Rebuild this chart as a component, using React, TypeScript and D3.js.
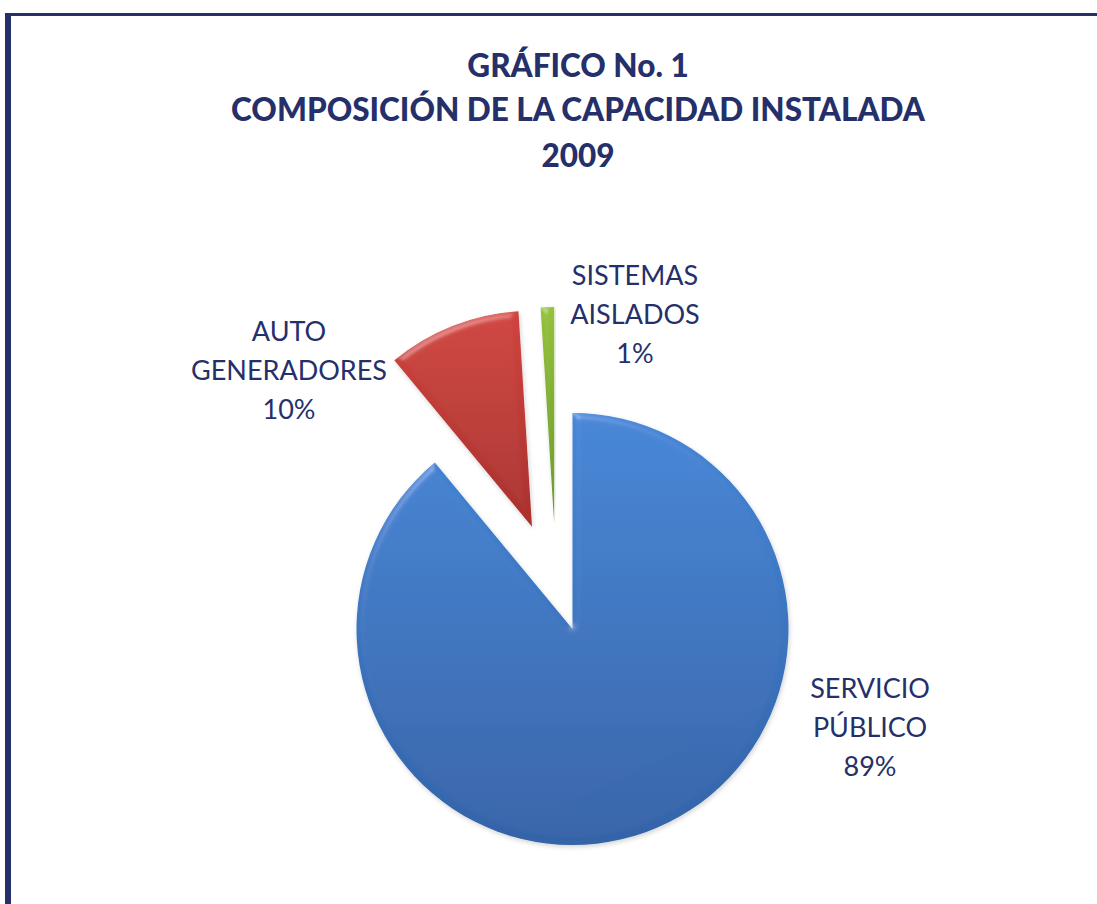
import React, { useEffect, useRef } from 'react';
import * as d3 from 'd3';

// data
const categories = ['SERVICIO PÚBLICO', 'AUTO GENERADORES', 'SISTEMAS AISLADOS'];
const values = [89, 10, 1];
const labelLines = [
  ['SERVICIO', 'PÚBLICO', '89%'],
  ['AUTO', 'GENERADORES', '10%'],
  ['SISTEMAS', 'AISLADOS', '1%'],
];
const titleLines = ['GRÁFICO No. 1', 'COMPOSICIÓN DE LA CAPACIDAD INSTALADA', '2009'];

const sliceColors = [
  ['#4486d6', '#3463a8'],
  ['#d0443f', '#a9312d'],
  ['#94c23c', '#6a9626'],
];
const explode = [0, 110, 106];
const explodeNudge = [[0, 0], [0, 0], [-15, 0]];
const labelAnchors = [[870, 698], [289, 341], [635, 285]];

const W = 1097;
const H = 904;
const NAVY = '#25306b';

const App = () => {
  const ref = useRef<SVGSVGElement>(null);

  useEffect(() => {
    const svg = d3.select(ref.current);
    svg.selectAll('*').remove();

    const defs = svg.append('defs');
    sliceColors.forEach((c, i) => {
      const g = defs.append('linearGradient')
        .attr('id', `grad${i}`)
        .attr('x1', 0).attr('y1', 0).attr('x2', 0).attr('y2', 1);
      g.append('stop').attr('offset', '0%').attr('stop-color', c[0]);
      g.append('stop').attr('offset', '100%').attr('stop-color', c[1]);
    });

    // soft bevel + light shadow
    const f = defs.append('filter').attr('id', 'bevel')
      .attr('x', '-10%').attr('y', '-10%').attr('width', '120%').attr('height', '120%');
    f.append('feGaussianBlur').attr('in', 'SourceAlpha').attr('stdDeviation', 3.5).attr('result', 'blur');
    f.append('feSpecularLighting').attr('in', 'blur').attr('surfaceScale', 4)
      .attr('specularConstant', 0.5).attr('specularExponent', 22)
      .attr('lighting-color', '#ffffff').attr('result', 'spec')
      .append('fePointLight').attr('x', -3000).attr('y', -6000).attr('z', 4000);
    f.append('feComposite').attr('in', 'spec').attr('in2', 'SourceAlpha')
      .attr('operator', 'in').attr('result', 'specIn');
    f.append('feComposite').attr('in', 'SourceGraphic').attr('in2', 'specIn')
      .attr('operator', 'arithmetic').attr('k1', 0).attr('k2', 1).attr('k3', 0.35).attr('k4', 0)
      .attr('result', 'lit');
    f.append('feGaussianBlur').attr('in', 'SourceAlpha').attr('stdDeviation', 2.5).attr('result', 'sh');
    f.append('feOffset').attr('in', 'sh').attr('dx', 1).attr('dy', 2).attr('result', 'sho');
    f.append('feComponentTransfer').attr('in', 'sho').attr('result', 'shf')
      .append('feFuncA').attr('type', 'linear').attr('slope', 0.18);
    const m = f.append('feMerge');
    m.append('feMergeNode').attr('in', 'shf');
    m.append('feMergeNode').attr('in', 'lit');

    // frame
    svg.append('line').attr('x1', 8).attr('x2', 8).attr('y1', 13).attr('y2', H)
      .attr('stroke', NAVY).attr('stroke-width', 6);
    svg.append('line').attr('x1', 5).attr('x2', W).attr('y1', 14.5).attr('y2', 14.5)
      .attr('stroke', NAVY).attr('stroke-width', 3);

    // title
    const title = svg.append('text')
      .attr('text-anchor', 'middle')
      .attr('font-family', 'Lato, "Open Sans", sans-serif')
      .attr('font-weight', 900)
      .attr('font-size', 31.5)
      .attr('fill', NAVY);
    const titleY = [77, 121, 167];
    titleLines.forEach((t, i) => {
      title.append('tspan').attr('x', 578).attr('y', titleY[i]).text(t);
    });

    const cx = 572.5;
    const cy = 629;
    const r = 216;

    const pie = d3.pie<number>().sort(null).value((d) => d).startAngle(0).endAngle(2 * Math.PI);
    const arcs = pie(values);
    const arc = d3.arc<d3.PieArcDatum<number>>().innerRadius(0).outerRadius(r);

    const g = svg.append('g').attr('transform', `translate(${cx},${cy})`);
    g.selectAll('path')
      .data(arcs)
      .enter()
      .append('path')
      .attr('d', (d) => arc(d) as string)
      .attr('fill', (d, i) => `url(#grad${i})`)
      .attr('filter', 'url(#bevel)')
      .attr('transform', (d, i) => {
        const a = (d.startAngle + d.endAngle) / 2;
        const dx = Math.sin(a) * explode[i] + explodeNudge[i][0];
        const dy = -Math.cos(a) * explode[i] + explodeNudge[i][1];
        return `translate(${dx},${dy})`;
      });

    // labels
    arcs.forEach((d, i) => {
      const t = svg.append('text')
        .attr('text-anchor', 'middle')
        .attr('font-family', 'Lato, "Open Sans", sans-serif')
        .attr('font-size', 27)
        .attr('fill', NAVY)
        .attr('aria-label', categories[i]);
      labelLines[i].forEach((line, j) => {
        t.append('tspan')
          .attr('x', labelAnchors[i][0])
          .attr('y', labelAnchors[i][1] + j * 39)
          .text(line);
      });
    });
  }, []);

  return (
    <svg
      ref={ref}
      width={W}
      height={H}
      style={{ position: 'absolute', left: 0, top: 0, background: '#fff' }}
    />
  );
};

export default App;
